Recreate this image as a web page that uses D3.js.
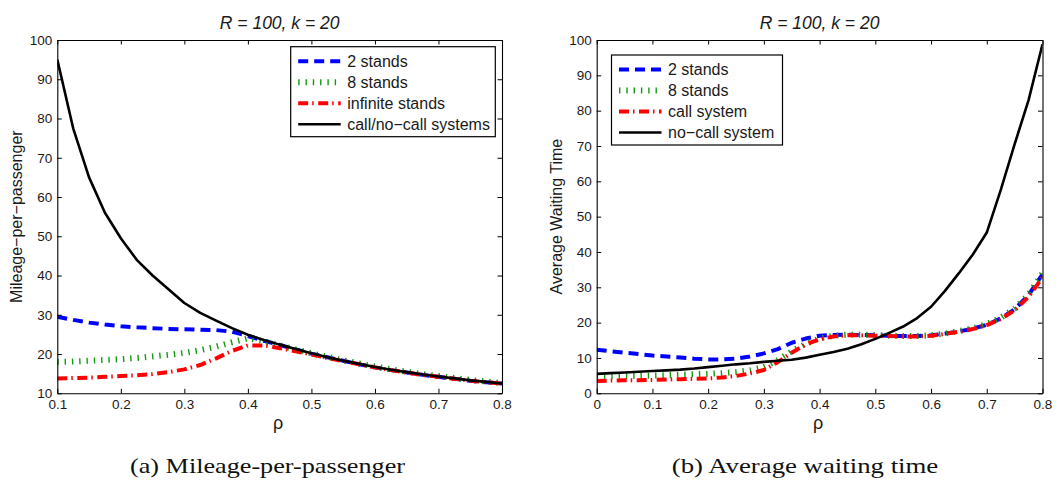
<!DOCTYPE html>
<html><head><meta charset="utf-8">
<script src="https://cdn.jsdelivr.net/npm/d3@7"></script>
<style>html,body{margin:0;padding:0;background:#fff;} svg{display:block;}</style>
</head><body>
<svg id="c" width="1058" height="481"></svg>
<script>
// ---------- data: panel (a) Mileage-per-passenger ----------
const rhoA = [0.100,0.125,0.150,0.175,0.200,0.225,0.250,0.275,0.300,0.325,0.350,0.375,0.400,0.425,0.450,0.475,0.500,0.525,0.550,0.575,0.600,0.625,0.650,0.675,0.700,0.725,0.750,0.775,0.800];
const stands2A = [29.5,28.7,28.0,27.5,27.1,26.8,26.6,26.4,26.3,26.2,26.1,25.7,24.6,23.4,22.3,21.2,20.1,19.2,18.3,17.4,16.6,15.9,15.3,14.7,14.2,13.7,13.2,12.8,12.5];
const stands8A = [18.0,18.1,18.3,18.5,18.7,19.0,19.4,19.8,20.3,21.0,21.9,23.0,24.0,23.3,22.2,21.2,20.2,19.3,18.4,17.6,16.8,16.1,15.5,14.9,14.4,13.9,13.4,13.0,12.6];
const infStandsA = [13.8,13.9,14.0,14.2,14.4,14.6,14.9,15.4,16.1,17.2,18.9,20.8,22.2,22.2,21.5,20.7,19.9,19.0,18.2,17.4,16.6,15.9,15.3,14.7,14.2,13.7,13.2,12.8,12.5];
const callNoCallA = [95,77.5,65,56,49.5,44,40,36.5,33,30.5,28.5,26.6,24.9,23.6,22.4,21.3,20.2,19.2,18.3,17.5,16.7,16.0,15.4,14.8,14.3,13.8,13.3,12.9,12.5];
const legendA = ["2 stands","8 stands","infinite stands","call/no\u2212call systems"];
const xTicksA = [0.1,0.2,0.3,0.4,0.5,0.6,0.7,0.8];
const xTickLabelsA = ["0.1","0.2","0.3","0.4","0.5","0.6","0.7","0.8"];
const yTicksA = [10,20,30,40,50,60,70,80,90,100];
const yTickLabelsA = ["10","20","30","40","50","60","70","80","90","100"];

// ---------- data: panel (b) Average waiting time ----------
const rhoB = [0,0.025,0.05,0.075,0.1,0.125,0.15,0.175,0.2,0.225,0.25,0.275,0.3,0.325,0.35,0.375,0.4,0.425,0.45,0.475,0.5,0.525,0.55,0.575,0.6,0.625,0.65,0.675,0.7,0.725,0.75,0.775,0.8];
const stands2B = [12.3,11.9,11.5,11.1,10.7,10.4,10.1,9.8,9.6,9.6,9.8,10.4,11.3,12.5,14.3,15.5,16.3,16.5,16.6,16.5,16.4,16.3,16.2,16.2,16.4,16.9,17.5,18.3,19.4,21.2,23.8,27.8,33.7];
const stands8B = [4.8,4.8,4.9,4.9,5.0,5.1,5.3,5.4,5.5,5.7,6.0,6.5,7.4,9.4,11.9,14.0,15.5,16.3,16.6,16.6,16.5,16.3,16.2,16.2,16.4,16.9,17.6,18.4,19.6,21.4,24.0,28.0,34.0];
const callB = [3.5,3.6,3.7,3.7,3.8,3.9,4.0,4.1,4.2,4.5,4.9,5.6,6.6,8.8,11.5,13.8,15.3,16.1,16.4,16.4,16.3,16.2,16.1,16.1,16.3,16.8,17.4,18.2,19.3,21.0,23.5,27.3,32.8];
const noCallB = [5.5,5.7,5.9,6.1,6.3,6.5,6.7,7.0,7.4,7.8,8.2,8.5,8.9,9.2,9.5,10.1,10.9,11.7,12.6,13.9,15.4,17.1,18.9,21.3,24.5,29.0,34.0,39.3,45.5,57.5,70.5,83.0,98.8];
const legendB = ["2 stands","8 stands","call system","no\u2212call system"];
const xTicksB = [0,0.1,0.2,0.3,0.4,0.5,0.6,0.7,0.8];
const xTickLabelsB = ["0","0.1","0.2","0.3","0.4","0.5","0.6","0.7","0.8"];
const yTicksB = [0,10,20,30,40,50,60,70,80,90,100];
const yTickLabelsB = ["0","10","20","30","40","50","60","70","80","90","100"];

const titles = ["R = 100, k = 20","R = 100, k = 20"];
const yLabels = ["Mileage\u2212per\u2212passenger","Average Waiting Time"];
const captions = ["(a)  Mileage-per-passenger","(b)  Average waiting time"];

// ---------- styling / layout ----------
const styles = [
  {color:"#0000ff", w:4, dash:"10,6"},
  {color:"#139913", w:6, dash:"1.4,5.9"},
  {color:"#ff0000", w:4, dash:"10,4,1.5,4.5"},
  {color:"#000000", w:2.6, dash:null}
];
const SANS = "'Liberation Sans', Arial, Helvetica, sans-serif";
const panels = [
  {left:57.3, right:502, top:40, bottom:393.3, xDom:[0.1,0.8], yDom:[10,100],
   rho:rhoA, series:[stands2A,stands8A,infStandsA,callNoCallA], legend:legendA,
   xT:xTicksA, xL:xTickLabelsA, yT:yTicksA, yL:yTickLabelsA,
   leg:{x:290.7, y:46.7, w:204.6, h:90}, ylabX:16.5, capX:267.5, capW:275},
  {left:596.7, right:1042.5, top:40, bottom:393.3, xDom:[0,0.8], yDom:[0,100],
   rho:rhoB, series:[stands2B,stands8B,callB,noCallB], legend:legendB,
   xT:xTicksB, xL:xTickLabelsB, yT:yTicksB, yL:yTickLabelsB,
   leg:{x:611.5, y:55, w:171, h:90}, ylabX:556, capX:805, capW:266.5}
];

const svg = d3.select("#c");
svg.append("rect").attr("width",1058).attr("height",481).attr("fill","#fff");

panels.forEach((p, i) => {
  const x = d3.scaleLinear().domain(p.xDom).range([p.left, p.right]);
  const y = d3.scaleLinear().domain(p.yDom).range([p.bottom, p.top]);
  const clipId = "clip" + i;
  svg.append("clipPath").attr("id", clipId).append("rect")
    .attr("x", p.left).attr("y", p.top).attr("width", p.right - p.left).attr("height", p.bottom - p.top);

  // series
  const line = d3.line().x((d) => x(d[0])).y((d) => y(d[1]));
  const gl = svg.append("g").attr("clip-path", `url(#${clipId})`);
  p.series.forEach((s, k) => {
    const st = styles[k];
    gl.append("path")
      .datum(p.rho.map((r, j) => [r, s[j]]))
      .attr("d", line)
      .attr("fill", "none")
      .attr("stroke", st.color)
      .attr("stroke-width", st.w)
      .attr("stroke-linejoin", "round")
      .attr("stroke-linecap", "butt")
      .attr("stroke-dasharray", st.dash);
  });

  // axes
  const fmtX = (d) => p.xL[p.xT.indexOf(d)];
  const fmtY = (d) => p.yL[p.yT.indexOf(d)];
  const styleAxis = (g) => {
    g.attr("font-family", SANS).attr("font-size", 13.5);
    g.select(".domain").attr("stroke", "#000").attr("stroke-width", 1.1);
    g.selectAll(".tick line").attr("stroke", "#000").attr("stroke-width", 1);
    g.selectAll(".tick text").attr("fill", "#1a1a1a");
  };
  svg.append("g").attr("transform", `translate(0,${p.bottom})`)
    .call(d3.axisBottom(x).tickValues(p.xT).tickFormat(fmtX).tickSizeInner(-4.5).tickSizeOuter(0).tickPadding(6.5))
    .call(styleAxis);
  svg.append("g").attr("transform", `translate(0,${p.top})`)
    .call(d3.axisTop(x).tickValues(p.xT).tickFormat(() => "").tickSizeInner(-4.5).tickSizeOuter(0))
    .call(styleAxis);
  svg.append("g").attr("transform", `translate(${p.left},0)`)
    .call(d3.axisLeft(y).tickValues(p.yT).tickFormat(fmtY).tickSizeInner(-4.5).tickSizeOuter(0).tickPadding(5))
    .call(styleAxis);
  svg.append("g").attr("transform", `translate(${p.right},0)`)
    .call(d3.axisRight(y).tickValues(p.yT).tickFormat(() => "").tickSizeInner(-4.5).tickSizeOuter(0))
    .call(styleAxis);

  const cx = (p.left + p.right) / 2;
  // title
  svg.append("text").attr("x", cx).attr("y", 28.5).attr("text-anchor", "middle")
    .attr("font-family", SANS).attr("font-style", "italic").attr("font-size", 17.5).attr("fill", "#1a1a1a")
    .text(titles[i]);
  // x label
  svg.append("text").attr("x", cx - 1.5).attr("y", 429).attr("text-anchor", "middle")
    .attr("font-family", SANS).attr("font-size", 18).attr("fill", "#1a1a1a").text("\u03C1");
  // y label
  svg.append("text").attr("transform", `translate(${p.ylabX + 5.5},${(p.top + p.bottom) / 2}) rotate(-90)`)
    .attr("text-anchor", "middle").attr("font-family", SANS).attr("font-size", 16).attr("fill", "#1a1a1a")
    .text(yLabels[i]);
  // caption
  svg.append("text").attr("x", p.capX).attr("y", 473).attr("text-anchor", "middle")
    .attr("font-family", "'Liberation Serif', 'Times New Roman', serif").attr("font-size", 21).attr("fill", "#111")
    .attr("textLength", p.capW).attr("lengthAdjust", "spacingAndGlyphs")
    .text(captions[i]);

  // legend
  const L = p.leg;
  const lg = svg.append("g");
  lg.append("rect").attr("x", L.x).attr("y", L.y).attr("width", L.w).attr("height", L.h)
    .attr("fill", "#fff").attr("stroke", "#000").attr("stroke-width", 1.2);
  p.legend.forEach((name, k) => {
    const st = styles[k];
    const ry = L.y + 14.5 + k * 21;
    lg.append("line").attr("x1", L.x + 7.5).attr("x2", L.x + 50).attr("y1", ry).attr("y2", ry)
      .attr("stroke", st.color).attr("stroke-width", st.w).attr("stroke-dasharray", st.dash);
    lg.append("text").attr("x", L.x + 56.5).attr("y", ry).attr("dy", "0.36em")
      .attr("font-family", SANS).attr("font-size", 16).attr("fill", "#1a1a1a").text(name);
  });
});
</script>
</body></html>
